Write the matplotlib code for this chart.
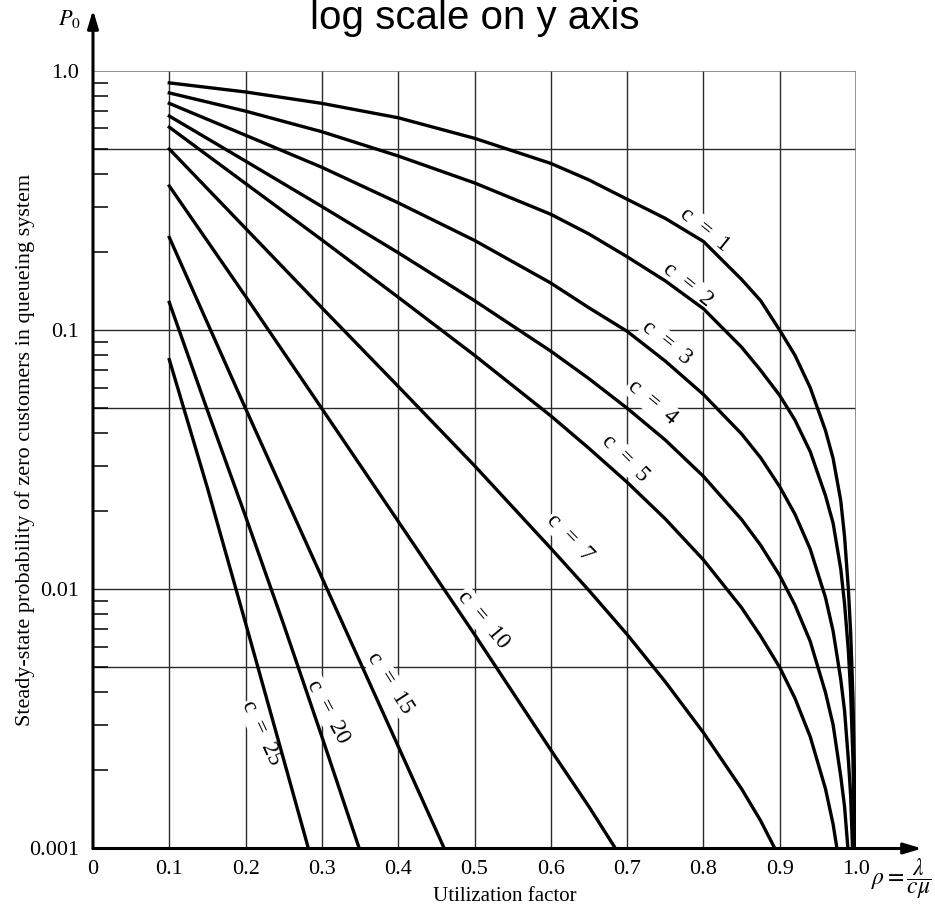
import numpy as np
import matplotlib
matplotlib.use('Agg')
import matplotlib.pyplot as plt
from matplotlib.ticker import LogLocator, NullFormatter

plt.rcParams['font.family'] = ['Liberation Serif', 'DejaVu Serif']
plt.rcParams['mathtext.fontset'] = 'stix'

# Values: P0 against utilization factor rho for each c
rho_fine = [0.1, 0.2, 0.3, 0.4, 0.5, 0.6, 0.65, 0.7, 0.75, 0.8, 0.85, 0.875, 0.9,
            0.92, 0.94, 0.96, 0.97, 0.98, 0.985, 0.99, 0.993, 0.996, 0.998, 0.9995]
p0_c1 = [0.90, 0.83, 0.75, 0.66, 0.55, 0.44, 0.38, 0.32, 0.27, 0.22, 0.157, 0.13, 0.10,
         0.08, 0.06, 0.041, 0.032, 0.022, 0.016, 0.010, 0.0068, 0.0038, 0.0019, 0.0006]
p0_c2 = [0.823, 0.70, 0.583, 0.47, 0.37, 0.28, 0.235, 0.192, 0.155, 0.121, 0.086, 0.070, 0.056,
         0.045, 0.034, 0.023, 0.018, 0.012, 0.0088, 0.0058, 0.0040, 0.0022, 0.0011, 0.0003]
p0_c3 = [0.75, 0.565, 0.425, 0.31, 0.222, 0.152, 0.122, 0.099, 0.076, 0.0565, 0.0398, 0.0322,
         0.0249, 0.0195, 0.0143, 0.0093, 0.0069, 0.0045, 0.0034, 0.0022, 0.0016, 0.0009, 0.00045]
p0_c4 = [0.670, 0.449, 0.300, 0.199, 0.130, 0.083, 0.065, 0.050, 0.0377, 0.0273, 0.0186, 0.0148,
         0.0113, 0.0087, 0.0063, 0.0040, 0.0030, 0.0019, 0.00145, 0.00095, 0.00067]
p0_c5 = [0.607, 0.368, 0.223, 0.134, 0.080, 0.0467, 0.035, 0.0259, 0.0187, 0.0130, 0.0085, 0.0066,
         0.0050, 0.0038, 0.0027, 0.0017, 0.00124, 0.00081, 0.0006]

rho_c7 = [0.1, 0.2, 0.3, 0.4, 0.5, 0.6, 0.65, 0.7, 0.75, 0.8, 0.85, 0.875, 0.9]
p0_c7 = [0.50, 0.247, 0.122, 0.0607, 0.030, 0.0144, 0.0099, 0.0067, 0.0044, 0.0028, 0.0017,
         0.00128, 0.00092]

rho_c10 = [0.1, 0.2, 0.3, 0.4, 0.5, 0.6, 0.65, 0.7]
p0_c10 = [0.36, 0.135, 0.0498, 0.0183, 0.0067, 0.0024, 0.00145, 0.00085]

rho_c15 = [0.1, 0.2, 0.3, 0.4, 0.45, 0.5]
p0_c15 = [0.228, 0.0498, 0.0111, 0.00248, 0.00117, 0.00055]

rho_c20 = [0.1, 0.15, 0.2, 0.25, 0.3, 0.35, 0.4]
p0_c20 = [0.128, 0.049, 0.0191, 0.0073, 0.0027, 0.00098, 0.00035]

rho_c25 = [0.1, 0.15, 0.2, 0.25, 0.3]
p0_c25 = [0.077, 0.0246, 0.0074, 0.0022, 0.00065]

# curve labels: text, position (rho, P0), angle
label_text = ['c  =  1', 'c  =  2', 'c  =  3', 'c  =  4', 'c  =  5',
              'c  =  7', 'c  =  10', 'c  =  15', 'c  =  20', 'c  =  25']
label_rho = [0.802, 0.780, 0.752, 0.733, 0.697, 0.625, 0.511, 0.389, 0.308, 0.2215]
label_p0 = [0.2435, 0.1494, 0.0892, 0.0528, 0.0321, 0.0158, 0.00762, 0.00435, 0.00337, 0.00279]
label_angle = [-39, -39, -39, -40, -45, -46, -50, -57.5, -62, -65]

x_ticks = [0, 0.1, 0.2, 0.3, 0.4, 0.5, 0.6, 0.7, 0.8, 0.9, 1.0]
x_ticklabels = ['0', '0.1', '0.2', '0.3', '0.4', '0.5', '0.6', '0.7', '0.8', '0.9', '1.0']
y_ticks = [1.0, 0.1, 0.01, 0.001]
y_ticklabels = ['1.0', '0.1', '0.01', '0.001']
h_grid = [0.5, 0.1, 0.05, 0.01, 0.005]
v_grid = [0.1, 0.2, 0.3, 0.4, 0.5, 0.6, 0.7, 0.8, 0.9]

fig = plt.figure(figsize=(9.35, 9.10), dpi=100)
ax = fig.add_axes([93 / 935, 1 - 848.5 / 910, 763 / 935, 777.5 / 910])
ax.set_yscale('log')
ax.set_xlim(0, 1)
ax.set_ylim(0.001, 1)

for s in ax.spines.values():
    s.set_visible(False)

# grid
for y in h_grid:
    ax.axhline(y, color='#2a2a2a', lw=1.0, zorder=1)
for x in v_grid:
    ax.axvline(x, color='#2a2a2a', lw=1.0, zorder=1)
ax.axhline(1.0, color='#808080', lw=1.2, zorder=1)
ax.axvline(1.0, color='#808080', lw=1.2, zorder=1)

# curves
curves = [(rho_fine, p0_c1), (rho_fine, p0_c2), (rho_fine[:len(p0_c3)], p0_c3),
          (rho_fine[:len(p0_c4)], p0_c4), (rho_fine[:len(p0_c5)], p0_c5),
          (rho_c7, p0_c7), (rho_c10, p0_c10), (rho_c15, p0_c15),
          (rho_c20, p0_c20), (rho_c25, p0_c25)]
for r, p in curves:
    ax.plot(r, p, color='black', lw=2.4, zorder=3, solid_joinstyle='round')

for t, r, p, a in zip(label_text, label_rho, label_p0, label_angle):
    ax.text(r, p, t, rotation=a, rotation_mode='anchor', ha='center', va='center',
            fontsize=16.5, zorder=2.5,
            bbox=dict(facecolor='white', edgecolor='none', pad=0.8))

# axes with arrows
arrow = dict(arrowstyle='-|>,head_length=0.9,head_width=0.27', lw=2.2, color='black',
             mutation_scale=12, shrinkA=0, shrinkB=0)
ax.annotate('', xy=(0, 1.0785), xytext=(0, 0), xycoords='axes fraction',
            arrowprops=arrow, annotation_clip=False, zorder=5)
ax.annotate('', xy=(1.0865, 0), xytext=(0, 0), xycoords='axes fraction',
            arrowprops=arrow, annotation_clip=False, zorder=5)

# ticks
ax.set_xticks(x_ticks)
ax.set_xticklabels(x_ticklabels)
ax.set_yticks(y_ticks)
ax.set_yticklabels(y_ticklabels)
ax.yaxis.set_minor_locator(LogLocator(base=10, subs=[2, 3, 4, 5, 6, 7, 8, 9]))
ax.yaxis.set_minor_formatter(NullFormatter())
ax.tick_params(axis='x', which='major', length=0, pad=8, labelsize=16)
ax.tick_params(axis='y', which='major', length=0, pad=10, labelsize=16)
ax.tick_params(axis='y', which='minor', direction='in', length=10.5, width=1.1, color='black')

# texts
fig.text(474.5 / 935, 1 - 29 / 910, 'log scale on y axis', ha='center', va='baseline',
         fontsize=29, family=['Liberation Sans', 'DejaVu Sans'])
fig.text(58 / 935, 1 - 25 / 910, r'$P_0$', ha='left', va='baseline', fontsize=16)
fig.text(871 / 935, 1 - 879 / 910, r'$\rho = \dfrac{\lambda}{c\mu}$', ha='left', va='center',
         fontsize=17)
fig.text(25 / 935, 1 - 450 / 910,
         'Steady-state probability of zero customers in queueing system',
         rotation=90, ha='center', va='center', fontsize=16)
fig.text(505 / 935, 1 - 901 / 910, 'Utilization factor', ha='center', va='baseline',
         fontsize=15)

fig.savefig('out.png', dpi=100)
